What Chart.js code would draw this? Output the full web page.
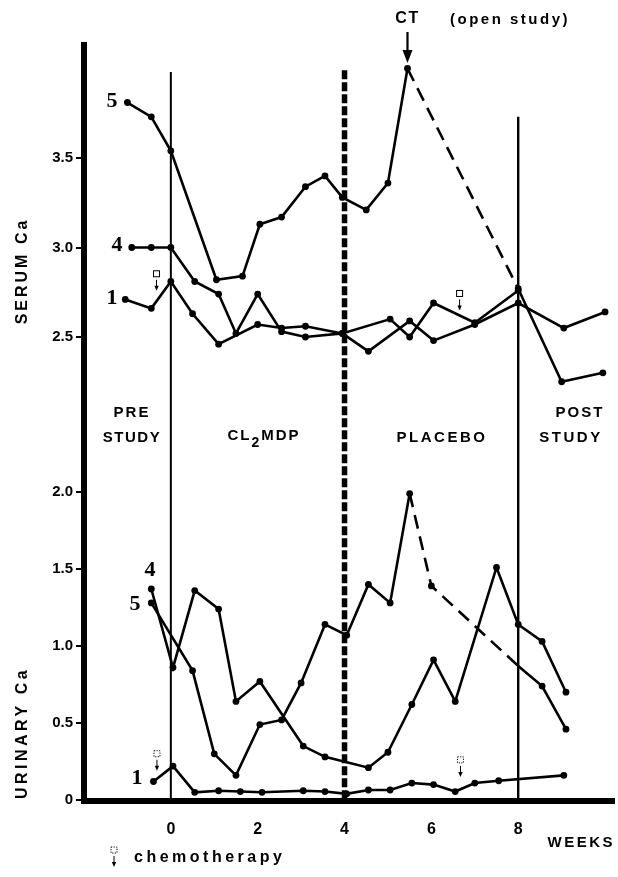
<!DOCTYPE html>
<html>
<head>
<meta charset="utf-8">
<title>Serum and urinary Ca</title>
<script src="https://cdn.jsdelivr.net/npm/chart.js@4/dist/chart.umd.min.js"></script>
<style>
  html, body { margin: 0; padding: 0; background: #fff; }
  #wrap { width: 618px; height: 877px; position: relative; }
</style>
</head>
<body>
<div id="wrap"><canvas id="chart"></canvas></div>
<script>
(function () {
  "use strict";

  // ---- data (weeks on x, Ca on y) ----
  var weekTicks = [0, 2, 4, 6, 8];
  var serumTicks = [2.5, 3.0, 3.5];
  var urineTicks = [0, 0.5, 1.0, 1.5, 2.0];

  var serum5Weeks = [-1.0, -0.45, 0, 1.05, 1.65, 2.05, 2.55, 3.1, 3.55, 3.95, 4.5, 5.0, 5.45, 8.0, 9.0, 9.95];
  var serum5Values = [3.81, 3.73, 3.54, 2.82, 2.84, 3.13, 3.17, 3.34, 3.40, 3.28, 3.21, 3.36, 4.0, 2.77, 2.25, 2.30];
  var serum5Dashed = [12];

  var serum4Weeks = [-0.9, -0.45, 0, 0.55, 1.1, 1.5, 2.0, 2.55, 3.1, 3.95, 4.55, 5.5, 6.05, 7.0, 8.0, 9.05, 10.0];
  var serum4Values = [3.0, 3.0, 3.0, 2.81, 2.74, 2.52, 2.74, 2.53, 2.50, 2.52, 2.42, 2.59, 2.48, 2.57, 2.69, 2.55, 2.64];

  var serum1Weeks = [-1.05, -0.45, 0, 0.5, 1.1, 2.0, 2.55, 3.1, 3.95, 5.05, 5.5, 6.05, 7.0, 8.0];
  var serum1Values = [2.71, 2.66, 2.81, 2.63, 2.46, 2.57, 2.55, 2.56, 2.52, 2.60, 2.50, 2.69, 2.58, 2.76];

  var urine4Weeks = [-0.45, 0.05, 0.55, 1.1, 1.5, 2.05, 3.05, 3.55, 4.55, 5.0, 5.55, 6.05, 6.55, 7.5, 8.0, 8.55, 9.1];
  var urine4Values = [1.37, 0.86, 1.36, 1.24, 0.64, 0.77, 0.35, 0.28, 0.21, 0.31, 0.62, 0.91, 0.64, 1.51, 1.14, 1.03, 0.70];

  var urine5Weeks = [-0.45, 0.5, 1.0, 1.5, 2.05, 2.55, 3.0, 3.55, 4.05, 4.55, 5.05, 5.5, 6.0, 8.0, 8.55, 9.1];
  var urine5Values = [1.28, 0.84, 0.30, 0.16, 0.49, 0.52, 0.76, 1.14, 1.07, 1.40, 1.28, 1.99, 1.39, 0.87, 0.74, 0.46];
  var urine5Dashed = [11, 12];
  var urine5NoDot = [13];

  var urine1Weeks = [-0.4, 0.05, 0.55, 1.1, 1.6, 2.1, 3.05, 3.55, 4.05, 4.55, 5.05, 5.55, 6.05, 6.55, 7.0, 7.55, 9.05];
  var urine1Values = [0.12, 0.22, 0.05, 0.06, 0.055, 0.05, 0.06, 0.055, 0.04, 0.065, 0.065, 0.11, 0.10, 0.055, 0.11, 0.125, 0.16];

  var chemoSerumWeeks = [-0.33, 6.65];
  var chemoUrineWeeks = [-0.32, 6.67];
  var ctWeek = 5.45;

  var sans = "'Liberation Sans', Arial, Helvetica, sans-serif";
  var serif = "'Liberation Serif', 'Times New Roman', serif";

  function toPoints(weeks, values) {
    return weeks.map(function (w, i) { return { x: w, y: values[i] }; });
  }

  function lineDataset(weeks, values, axis, dashedFrom, noDot) {
    dashedFrom = dashedFrom || [];
    noDot = noDot || [];
    return {
      data: toPoints(weeks, values),
      yAxisID: axis,
      borderColor: "#000",
      backgroundColor: "#000",
      borderWidth: 2.6,
      pointRadius: function (ctx) { return noDot.indexOf(ctx.dataIndex) >= 0 ? 0 : 3.4; },
      pointBorderWidth: 0,
      pointBackgroundColor: "#000",
      tension: 0,
      segment: {
        borderDash: function (ctx) {
          return dashedFrom.indexOf(ctx.p0DataIndex) >= 0 ? [14, 8] : undefined;
        }
      }
    };
  }

  function drawText(ctx, text, x, y, font, align, spacing) {
    ctx.save();
    ctx.font = font;
    ctx.fillStyle = "#000";
    ctx.textAlign = align || "center";
    ctx.textBaseline = "middle";
    if ("letterSpacing" in ctx) ctx.letterSpacing = (spacing || 0) + "px";
    ctx.fillText(text, x, y);
    ctx.restore();
  }

  function drawRotated(ctx, text, x, y, font, spacing) {
    ctx.save();
    ctx.translate(x, y);
    ctx.rotate(-Math.PI / 2);
    drawText(ctx, text, 0, 0, font, "center", spacing);
    ctx.restore();
  }

  function drawChemo(ctx, x, top, dotted) {
    ctx.save();
    ctx.strokeStyle = "#000";
    ctx.fillStyle = "#000";
    ctx.lineWidth = 1;
    if (dotted) ctx.setLineDash([1.2, 1.4]);
    ctx.strokeRect(x - 3, top, 6, 6);
    ctx.setLineDash([]);
    ctx.beginPath();
    ctx.moveTo(x, top + 9);
    ctx.lineTo(x, top + 17);
    ctx.stroke();
    ctx.beginPath();
    ctx.moveTo(x - 2.2, top + 15);
    ctx.lineTo(x + 2.2, top + 15);
    ctx.lineTo(x, top + 20);
    ctx.closePath();
    ctx.fill();
    ctx.restore();
  }

  var annotations = {
    id: "annotations",
    beforeDatasetsDraw: function (chart) {
      var ctx = chart.ctx;
      var xs = chart.scales.x;
      var ys = chart.scales.ySerum;
      var bottom = chart.chartArea.bottom;
      var phaseLines = [
        { week: 0, top: 3.98, width: 2, dash: [] },
        { week: 4, top: 3.99, width: 5.5, dash: [9, 3] },
        { week: 8, top: 3.73, width: 2.4, dash: [] }
      ];
      ctx.save();
      ctx.strokeStyle = "#000";
      phaseLines.forEach(function (l) {
        var px = xs.getPixelForValue(l.week);
        ctx.lineWidth = l.width;
        ctx.setLineDash(l.dash);
        ctx.beginPath();
        ctx.moveTo(px, ys.getPixelForValue(l.top));
        ctx.lineTo(px, bottom);
        ctx.stroke();
      });
      ctx.restore();
    },
    afterDraw: function (chart) {
      var ctx = chart.ctx;
      var xs = chart.scales.x;
      var ys = chart.scales.ySerum;
      var yu = chart.scales.yUrine;

      // axis titles
      drawRotated(ctx, "SERUM Ca", 23, 271, "bold 16px " + sans, 3);
      drawRotated(ctx, "URINARY Ca", 23, 733, "bold 16px " + sans, 3.5);
      drawText(ctx, "WEEKS", 615, 843, "bold 15px " + sans, "right", 2.5);

      // phase labels
      var phaseFont = "bold 15px " + sans;
      drawText(ctx, "PRE", 132, 413, phaseFont, "center", 2);
      drawText(ctx, "STUDY", 132, 438, phaseFont, "center", 1.5);
      drawText(ctx, "PLACEBO", 442, 438, phaseFont, "center", 2.5);
      drawText(ctx, "POST", 580, 413, phaseFont, "center", 2);
      drawText(ctx, "STUDY", 571, 438, phaseFont, "center", 2.5);

      // CL2MDP with subscript
      ctx.save();
      if ("letterSpacing" in ctx) ctx.letterSpacing = "2px";
      ctx.font = phaseFont;
      var w1 = ctx.measureText("CL").width;
      var w3 = ctx.measureText("MDP").width;
      ctx.font = "bold 14px " + sans;
      var w2 = ctx.measureText("2").width;
      ctx.restore();
      var x0 = 264 - (w1 + w2 + w3) / 2;
      drawText(ctx, "CL", x0, 436, phaseFont, "left", 2);
      drawText(ctx, "2", x0 + w1, 443, "bold 14px " + sans, "left", 2);
      drawText(ctx, "MDP", x0 + w1 + w2, 436, phaseFont, "left", 2);

      // series labels
      var numFont = "bold 22px " + serif;
      drawText(ctx, "5", 112, 101, numFont, "center", 0);
      drawText(ctx, "4", 117, 245, numFont, "center", 0);
      drawText(ctx, "1", 112, 298, numFont, "center", 0);
      drawText(ctx, "4", 150, 570, numFont, "center", 0);
      drawText(ctx, "5", 135, 604, numFont, "center", 0);
      drawText(ctx, "1", 137, 778, numFont, "center", 0);

      // CT arrow
      var cx = xs.getPixelForValue(ctWeek);
      drawText(ctx, "CT", cx, 19, "bold 16px " + sans, "center", 1.5);
      drawText(ctx, "(open study)", 450, 20, "bold 15px " + sans, "left", 2.5);
      ctx.save();
      ctx.strokeStyle = "#000";
      ctx.fillStyle = "#000";
      ctx.lineWidth = 2.2;
      ctx.beginPath();
      ctx.moveTo(cx, 32);
      ctx.lineTo(cx, 52);
      ctx.stroke();
      ctx.beginPath();
      ctx.moveTo(cx - 5, 50);
      ctx.lineTo(cx + 5, 50);
      ctx.lineTo(cx, 63);
      ctx.closePath();
      ctx.fill();
      ctx.restore();

      // chemotherapy markers
      drawChemo(ctx, xs.getPixelForValue(chemoSerumWeeks[0]), ys.getPixelForValue(2.87), false);
      drawChemo(ctx, xs.getPixelForValue(chemoSerumWeeks[1]), ys.getPixelForValue(2.76), false);
      drawChemo(ctx, xs.getPixelForValue(chemoUrineWeeks[0]), yu.getPixelForValue(0.32), true);
      drawChemo(ctx, xs.getPixelForValue(chemoUrineWeeks[1]), yu.getPixelForValue(0.28), true);

      // legend
      drawChemo(ctx, 114, 847, true);
      drawText(ctx, "chemotherapy", 134, 858, "bold 16px " + sans, "left", 3.5);
    }
  };

  var tickFont = { family: sans, size: 15, weight: "bold" };

  function yGrid() {
    return { display: true, drawOnChartArea: false, drawTicks: true, tickLength: 8, lineWidth: 2, color: "#000" };
  }

  new Chart(document.getElementById("chart"), {
    type: "line",
    data: {
      datasets: [
        lineDataset(serum5Weeks, serum5Values, "ySerum", serum5Dashed),
        lineDataset(serum4Weeks, serum4Values, "ySerum"),
        lineDataset(serum1Weeks, serum1Values, "ySerum"),
        lineDataset(urine4Weeks, urine4Values, "yUrine"),
        lineDataset(urine5Weeks, urine5Values, "yUrine", urine5Dashed, urine5NoDot),
        lineDataset(urine1Weeks, urine1Values, "yUrine")
      ]
    },
    options: {
      responsive: true,
      maintainAspectRatio: false,
      animation: false,
      layout: { padding: { top: 45, left: 0, right: 0, bottom: 0 } },
      plugins: { legend: { display: false }, tooltip: { enabled: false } },
      scales: {
        x: {
          type: "linear",
          min: -2.0,
          max: 10.206,
          grid: { display: false, drawTicks: false },
          border: { display: true, width: 6, color: "#000" },
          ticks: { color: "#000", font: { family: sans, size: 16, weight: "bold" }, padding: 19, autoSkip: false, maxRotation: 0 },
          afterBuildTicks: function (scale) {
            scale.ticks = weekTicks.map(function (v) { return { value: v }; });
          },
          afterFit: function (scale) { scale.height = 76; }
        },
        yUrine: {
          type: "linear",
          position: "left",
          stack: "left",
          stackWeight: 1,
          min: -0.0065,
          max: 2.448,
          grid: yGrid(),
          border: { display: true, width: 6, color: "#000" },
          ticks: {
            color: "#000",
            font: tickFont,
            padding: 3,
            callback: function (v) { return v === 0 ? "0" : Number(v).toFixed(1); }
          },
          afterBuildTicks: function (scale) {
            scale.ticks = urineTicks.map(function (v) { return { value: v }; });
          },
          afterFit: function (scale) { scale.width = 84; }
        },
        ySerum: {
          type: "linear",
          position: "left",
          stack: "left",
          stackWeight: 1,
          min: 2.0196,
          max: 4.1313,
          grid: yGrid(),
          border: { display: true, width: 6, color: "#000" },
          ticks: {
            color: "#000",
            font: tickFont,
            padding: 3,
            callback: function (v) { return Number(v).toFixed(1); }
          },
          afterBuildTicks: function (scale) {
            scale.ticks = serumTicks.map(function (v) { return { value: v }; });
          },
          afterFit: function (scale) { scale.width = 84; }
        }
      }
    },
    plugins: [annotations]
  });
})();
</script>
</body>
</html>
